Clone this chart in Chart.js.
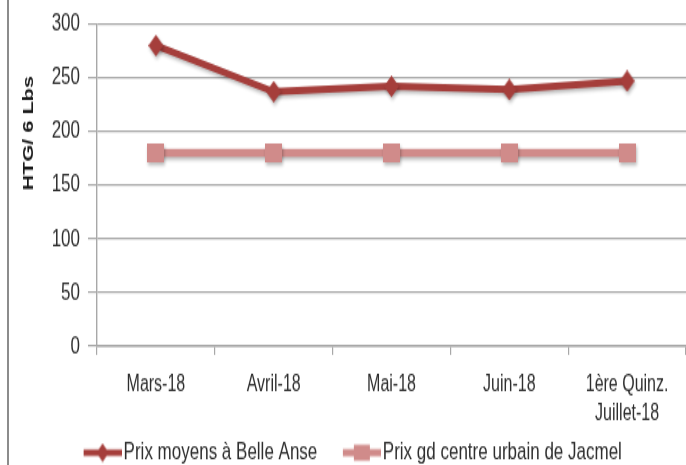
<!DOCTYPE html>
<html>
<head>
<meta charset="utf-8">
<script src="https://cdn.jsdelivr.net/npm/chart.js@4"></script>
<style>
  html, body { margin: 0; padding: 0; background: #fff; width: 686px; height: 465px; overflow: hidden; }
  #wrap { position: absolute; left: 0; top: 0; width: 686px; height: 321px; transform: scaleY(1.4486); transform-origin: 0 0; }
  #frame { position: absolute; left: 7px; top: 0; width: 2px; height: 465px; background: #8c8c8c; }
</style>
</head>
<body>
<div id="wrap"><canvas id="c" width="686" height="321"></canvas></div>
<div id="frame"></div>
<script>
const categories = ['Mars-18', 'Avril-18', 'Mai-18', 'Juin-18', ['1ère Quinz.', 'Juillet-18']];
const belleAnse = [280, 237, 242, 239, 247];
const jacmel = [180, 180, 180, 180, 180];
const yTicks = [0, 50, 100, 150, 200, 250, 300];
const seriesNames = ['Prix moyens à Belle Anse', 'Prix gd centre urbain de Jacmel'];
const yTitle = 'HTG/ 6 Lbs';

const darkRed = '#A53E3B';
const pink = '#D08B8A';
const gridGray = '#A8A8A8';
const textColor = '#2e2e2e';
const fam = '"Liberation Sans", Arial, sans-serif';

function markerImage(color, kind) {
  const c = document.createElement('canvas');
  const g = c.getContext('2d');
  if (kind === 'diamond') {
    c.width = 15; c.height = 15;
    g.fillStyle = color;
    g.beginPath(); g.moveTo(7.5, 0); g.lineTo(15, 7.5); g.lineTo(7.5, 15); g.lineTo(0, 7.5); g.closePath(); g.fill();
  } else {
    c.width = 17; c.height = 13;
    g.fillStyle = color;
    g.fillRect(0, 0, 17, 13);
  }
  return c;
}

function legendImage(color, kind) {
  const c = document.createElement('canvas');
  c.width = 64; c.height = 14;
  const g = c.getContext('2d');
  g.strokeStyle = color; g.fillStyle = color;
  g.lineWidth = kind === 'diamond' ? 4.5 : 5;
  g.beginPath(); g.moveTo(26, 7); g.lineTo(64, 7); g.stroke();
  const cx = 45;
  g.beginPath();
  if (kind === 'diamond') {
    g.moveTo(cx, 0.5); g.lineTo(cx + 6, 7); g.lineTo(cx, 13.5); g.lineTo(cx - 6, 7);
  } else {
    g.rect(cx - 8, 1.5, 16, 11);
  }
  g.closePath(); g.fill();
  return c;
}

const shadowPlugin = {
  id: 'shadow',
  beforeDatasetsDraw(chart) {
    const ctx = chart.ctx;
    ctx.save();
    ctx.shadowColor = 'rgba(0,0,0,0.28)';
    ctx.shadowBlur = 3;
    ctx.shadowOffsetX = 1;
    ctx.shadowOffsetY = 2;
  },
  afterDatasetsDraw(chart) { chart.ctx.restore(); }
};

// Draws the y-axis title (from the scale's title options) placed as in the source chart
const yTitlePlugin = {
  id: 'yTitle',
  afterDraw(chart) {
    const t = chart.scales.y.options.title;
    const ctx = chart.ctx;
    ctx.save();
    ctx.font = 'bold 15px ' + fam;
    ctx.fillStyle = t.color;
    ctx.textAlign = 'center';
    ctx.textBaseline = 'middle';
    ctx.translate(28.5, 92);
    ctx.rotate(-Math.PI / 2);
    ctx.fillText(t.text, 0, 0);
    ctx.restore();
  }
};

const noPad = () => ({ left: 0, top: 0, right: 0, bottom: 0 });

new Chart(document.getElementById('c'), {
  type: 'line',
  data: {
    labels: categories,
    datasets: [
      {
        label: seriesNames[0], data: belleAnse,
        borderColor: darkRed, backgroundColor: darkRed, borderWidth: 5,
        pointStyle: markerImage(darkRed, 'diamond'), pointRadius: 8, pointHoverRadius: 8,
        tension: 0, order: 1
      },
      {
        label: seriesNames[1], data: jacmel,
        borderColor: pink, backgroundColor: pink, borderWidth: 5.5,
        pointStyle: markerImage(pink, 'square'), pointRadius: 9, pointHoverRadius: 9,
        tension: 0, order: 2
      }
    ]
  },
  options: {
    responsive: false,
    animation: false,
    devicePixelRatio: 1,
    layout: { autoPadding: false, padding: { left: 0, right: 0, top: 16.6, bottom: -10 } },
    plugins: {
      tooltip: { enabled: false },
      legend: {
        position: 'bottom',
        labels: {
          usePointStyle: true,
          pointStyleWidth: 51,
          boxHeight: 14,
          padding: 6,
          color: textColor,
          font: { family: fam, size: 17 },
          generateLabels(chart) {
            return [
              { text: seriesNames[0], pointStyle: legendImage(darkRed, 'diamond'), fontColor: textColor, datasetIndex: 0, lineWidth: 0, strokeStyle: 'transparent', fillStyle: darkRed },
              { text: seriesNames[1], pointStyle: legendImage(pink, 'square'), fontColor: textColor, datasetIndex: 1, lineWidth: 0, strokeStyle: 'transparent', fillStyle: pink }
            ];
          }
        }
      }
    },
    scales: {
      x: {
        offset: true,
        grid: { offset: true, drawOnChartArea: false, drawTicks: true, tickLength: 6, color: gridGray, lineWidth: 1.2 },
        border: { display: true, color: gridGray, width: 1.4 },
        ticks: { color: textColor, font: { family: fam, size: 16, lineHeight: 1.22 }, padding: 11, maxRotation: 0, autoSkip: false },
        afterFit(scale) { scale.height = 59; scale.paddingLeft = 0; scale.paddingRight = 0; scale.getPadding = noPad; }
      },
      y: {
        min: 0, max: 300,
        afterBuildTicks(scale) { scale.ticks = yTicks.map(v => ({ value: v })); },
        grid: { color: gridGray, lineWidth: 1.2, drawTicks: true, tickLength: 9 },
        border: { display: true, color: gridGray, width: 1.4 },
        ticks: { color: textColor, font: { family: fam, size: 17 }, padding: 8 },
        title: { display: false, text: yTitle, color: '#1a1a1a' },
        afterFit(scale) { scale.width = 97; scale.paddingTop = 0; scale.paddingBottom = 0; scale.getPadding = noPad; }
      }
    }
  },
  plugins: [shadowPlugin, yTitlePlugin]
});
</script>
</body>
</html>
